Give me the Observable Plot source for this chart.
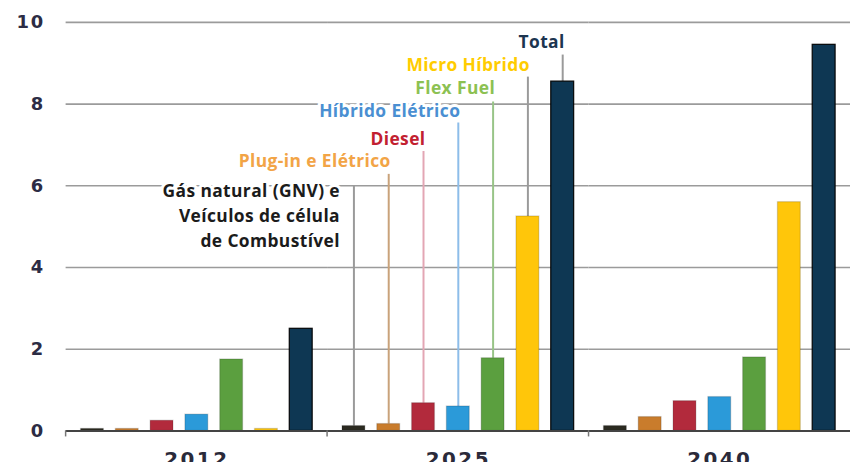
<!DOCTYPE html>
<html><head><meta charset="utf-8">
<script src="https://cdn.jsdelivr.net/npm/d3@7"></script>
<script src="https://cdn.jsdelivr.net/npm/@observablehq/plot@0.6"></script>
<style>
html,body{margin:0;padding:0;overflow:hidden;background:#fff}
g[aria-label="y-axis tick label"] text{letter-spacing:2px}
g[aria-label="fx-axis tick label"] text{letter-spacing:2.5px}
g[aria-label="text"] text{letter-spacing:0.4px}
</style></head><body><div id="chart"></div>
<script>
const groups = ["2012", "2025", "2040"];
const categories = ["GNV", "Plug-in", "Diesel", "Híbrido", "Flex", "Micro", "Total"];
const values2012 = [0.05, 0.05, 0.25, 0.4, 1.75, 0.05, 2.5];
const values2025 = [0.12, 0.17, 0.68, 0.6, 1.78, 5.25, 8.55];
const values2040 = [0.12, 0.34, 0.73, 0.83, 1.8, 5.6, 9.45];
const barColors = ["#2b2a20", "#c97c2c", "#b22a3c", "#2b9ad9", "#5b9f3f", "#ffc60a", "#0e3753"];
const labelTexts = ["Gás natural (GNV) e\nVeículos de célula\nde Combustível", "Plug-in e Elétrico", "Diesel", "Híbrido Elétrico", "Flex Fuel", "Micro Híbrido", "Total"];
const labelColors = ["#1b1b1b", "#f2a446", "#c22030", "#4a8fd2", "#8cc152", "#ffcc00", "#1c3550"];
const leaderColors = ["#9a9a9a", "#c9a27a", "#e3a6b4", "#8dbde9", "#98c487", "#9a9a9a", "#9a9a9a"];
const labelBaselines = [6.15, 6.45, 7.0, 7.69, 8.25, 8.8, 9.37];
const leaderTops = [6.0, 6.28, 6.84, 7.54, 8.05, 8.66, 9.2];
const yTicks = [0, 2, 4, 6, 8, 10];
const labelGroup = "2025";

const seriesByGroup = [values2012, values2025, values2040];
const bars = groups.flatMap((g, gi) => categories.map((c, i) => ({group: g, category: c, value: seriesByGroup[gi][i]})));
const labels = categories.map((c, i) => ({
  group: labelGroup, category: c, text: labelTexts[i], color: labelColors[i],
  leader: leaderColors[i], base: labelBaselines[i], top: leaderTops[i],
  value: seriesByGroup[groups.indexOf(labelGroup)][i]
}));

const textOpts = {
  fx: "group", x: "category", y: "base", text: "text",
  fill: {value: "color", scale: null},
  textAnchor: "end", fontSize: 17.5, fontWeight: 700, fontFamily: "Open Sans",
  stroke: "white", strokeWidth: 6, paintOrder: "stroke"
};

const plot = Plot.plot({
  width: 856, height: 465,
  marginLeft: 65, marginRight: 0, marginTop: 22, marginBottom: 32,
  fx: {domain: groups, padding: 0, label: null},
  x: {domain: categories, paddingInner: 0.34, paddingOuter: 0.4, axis: null},
  y: {domain: [0, 10], label: null},
  color: {domain: categories, range: barColors},
  style: {fontFamily: "DejaVu Sans", background: "white"},
  marks: [
    Plot.gridY(yTicks, {stroke: "#9b9b9b", strokeOpacity: 1, strokeWidth: 1.6}),
    Plot.axisY(yTicks, {tickSize: 0, tickPadding: 21, fontSize: 18, fontWeight: "bold", fill: "#2c2c44", label: null}),
    Plot.axisFx({anchor: "bottom", tickSize: 0, tickPadding: 21, fontSize: 20, fontWeight: "bold", fill: "#2a2a3a", label: null}),
    Plot.ruleX(labels, {fx: "group", x: "category", y1: "value", y2: "top", stroke: {value: "leader", scale: null}, strokeWidth: 2}),
    Plot.barY(bars, {fx: "group", x: "category", y: "value", fill: "category", stroke: "#000",
      strokeOpacity: d => d.category === "Total" ? 0.9 : 0.15, strokeWidth: 1.3}),
    Plot.ruleY([0], {stroke: "#444", strokeWidth: 2}),
    Plot.text(labels.slice(1), {...textOpts, lineAnchor: "bottom", dx: 2}),
    Plot.text(labels.slice(0, 1), {...textOpts, lineAnchor: "top", lineHeight: 1.42, dx: -14})
  ]
});

const fxs = plot.scale("fx");
const ys = plot.scale("y");
const svg = d3.select(plot);
groups.forEach(g => {
  const x0 = fxs.apply(g);
  svg.append("line").attr("x1", x0).attr("x2", x0)
    .attr("y1", ys.apply(0)).attr("y2", ys.apply(0) + 6)
    .attr("stroke", "#777").attr("stroke-width", 1.5);
});
document.getElementById("chart").appendChild(plot);
</script>
</body></html>
